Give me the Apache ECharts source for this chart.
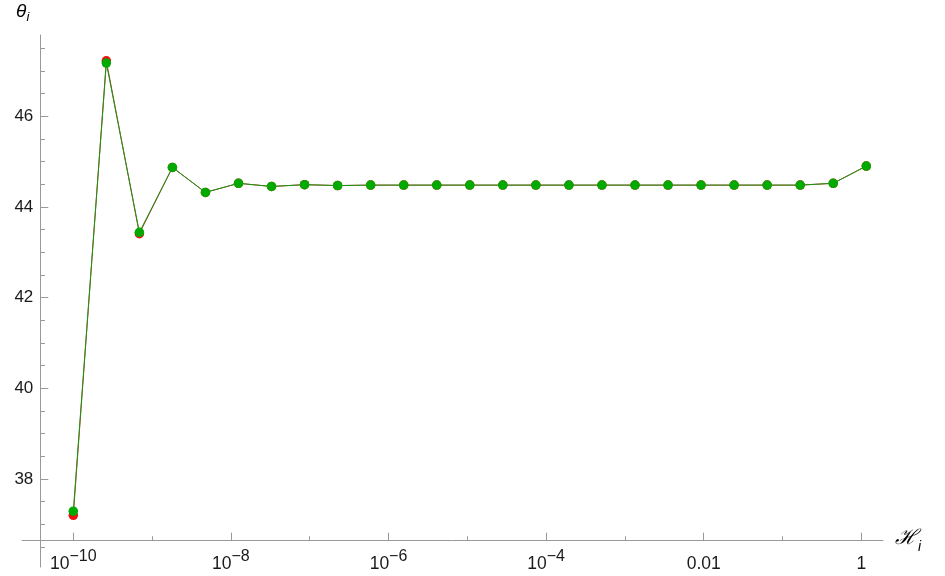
<!DOCTYPE html>
<html>
<head>
<meta charset="utf-8">
<script src="https://cdn.jsdelivr.net/npm/echarts@6/dist/echarts.min.js"></script>
<style>
html,body{margin:0;padding:0;background:#fff;}
#chart{width:945px;height:576px;}
</style>
</head>
<body>
<div id="chart"></div>
<script>
// H_i values (x, log scale)
const hValues = [1e-10, 2.626e-10, 6.896e-10, 1.811e-9, 4.755e-9, 1.249e-8, 3.279e-8, 8.61e-8,
  2.261e-7, 5.937e-7, 1.560e-6, 4.096e-6, 1.075e-5, 2.824e-5, 7.416e-5, 1.948e-4, 5.114e-4,
  1.343e-3, 3.527e-3, 9.26e-3, 2.432e-2, 6.387e-2, 0.1677, 0.4405, 1.157];
// theta_i, red series (drawn underneath)
const thetaRed = [37.20, 47.22, 43.41, 44.87, 44.32, 44.52, 44.45, 44.49, 44.47, 44.48, 44.48, 44.48,
  44.48, 44.48, 44.48, 44.48, 44.48, 44.48, 44.48, 44.48, 44.48, 44.48, 44.48, 44.52, 44.90];
// theta_i, green series (drawn on top)
const thetaGreen = [37.29, 47.17, 43.44, 44.87, 44.32, 44.52, 44.45, 44.49, 44.47, 44.48, 44.48, 44.48,
  44.48, 44.48, 44.48, 44.48, 44.48, 44.48, 44.48, 44.48, 44.48, 44.48, 44.48, 44.52, 44.90];
// ticks
const xMajorTicks = [1e-10, 1e-8, 1e-6, 1e-4, 1e-2, 1];
const xMinorTicks = [1e-9, 1e-7, 1e-5, 1e-3, 1e-1];
const yMajorTicks = [38, 40, 42, 44, 46];
const yMinorTicks = [36.5, 37, 37.5, 38.5, 39, 39.5, 40.5, 41, 41.5, 42.5, 43, 43.5, 44.5, 45, 45.5, 46.5, 47, 47.5];

const FONT = 'Liberation Sans, Arial, sans-serif';
const AXIS_COLOR = '#999999';
const TXT = '#1a1a1a';
const xMin = Math.pow(10, -10.651), xMax = Math.pow(10, 0.2754);
const yMin = 36.06, yMax = 47.79;

function xLabel(v) {
  const e = Math.round(Math.log10(v));
  if (e >= -2) return '{b|' + (e === 0 ? '1' : '0.01') + '}';
  return '{b|10}{s|\u2212' + (-e) + '}';
}

const chart = echarts.init(document.getElementById('chart'), null, {renderer: 'canvas'});
const common = {
  type: 'log', logBase: 10, min: xMin, max: xMax, gridIndex: 0, position: 'bottom', offset: -26.3,
  splitLine: {show: false}
};
chart.setOption({
  animation: false,
  backgroundColor: '#ffffff',
  grid: {left: 22, right: 62, top: 35, bottom: 9, containLabel: false},
  xAxis: [
    Object.assign({}, common, {
      name: '{h|\u210B}{s|i}',
      nameLocation: 'end',
      nameGap: 12,
      nameTextStyle: {
        rich: {
          h: {fontFamily: 'DejaVu Serif, serif', fontStyle: 'italic', fontSize: 21, color: '#000', lineHeight: 26, verticalAlign: 'top'},
          s: {fontFamily: FONT, fontStyle: 'italic', fontSize: 14, color: '#000', lineHeight: 24, verticalAlign: 'bottom', padding: [0,0,0,1]}
        }
      },
      axisLine: {show: true, lineStyle: {color: AXIS_COLOR, width: 1}},
      axisTick: {show: true, inside: true, length: 8, customValues: xMajorTicks, lineStyle: {color: AXIS_COLOR}},
      axisLabel: {
        show: true, margin: 8, customValues: xMajorTicks, formatter: xLabel,
        fontFamily: FONT, fontSize: 17, color: TXT,
        rich: {
          b: {fontFamily: FONT, fontSize: 17.5, color: TXT, lineHeight: 24, verticalAlign: 'bottom'},
          s: {fontFamily: FONT, fontSize: 16, color: TXT, lineHeight: 16, verticalAlign: 'bottom', padding: [0, 0, 8, 0]}
        }
      }
    }),
    Object.assign({}, common, {
      axisLine: {show: false},
      axisTick: {show: true, inside: true, length: 4.5, customValues: xMinorTicks, lineStyle: {color: AXIS_COLOR}},
      axisLabel: {show: false}
    })
  ],
  yAxis: [
    {
      type: 'value', min: yMin, max: yMax, gridIndex: 0, position: 'left', offset: -18.3,
      splitLine: {show: false},
      name: '{t|\u03B8}{s|i}',
      nameLocation: 'end',
      nameGap: 11,
      nameTextStyle: {
        align: 'right',
        padding: [0, 11, 0, 0],
        rich: {
          t: {fontFamily: FONT, fontStyle: 'italic', fontSize: 19, color: '#000', lineHeight: 22, verticalAlign: 'top'},
          s: {fontFamily: FONT, fontStyle: 'italic', fontSize: 13, color: '#000', lineHeight: 22, verticalAlign: 'bottom'}
        }
      },
      axisLine: {show: true, lineStyle: {color: AXIS_COLOR, width: 1}},
      axisTick: {show: true, inside: true, length: 8, customValues: yMajorTicks, lineStyle: {color: AXIS_COLOR}},
      axisLabel: {show: true, margin: 7, customValues: yMajorTicks, fontFamily: FONT, fontSize: 17, color: TXT}
    },
    {
      type: 'value', min: yMin, max: yMax, gridIndex: 0, position: 'left', offset: -18.3,
      splitLine: {show: false},
      axisLine: {show: false},
      axisTick: {show: true, inside: true, length: 4.7, customValues: yMinorTicks, lineStyle: {color: AXIS_COLOR}},
      axisLabel: {show: false}
    }
  ],
  series: [
    {
      type: 'line', xAxisIndex: 0, yAxisIndex: 0,
      data: hValues.map((h, i) => [h, thetaRed[i]]),
      symbol: 'circle', symbolSize: 9.5, showAllSymbol: true,
      itemStyle: {color: '#ee1111'},
      lineStyle: {color: '#cc3322', width: 1},
      z: 2
    },
    {
      type: 'line', xAxisIndex: 0, yAxisIndex: 0,
      data: hValues.map((h, i) => [h, thetaGreen[i]]),
      symbol: 'circle', symbolSize: 9.5, showAllSymbol: true,
      itemStyle: {color: '#00aa00'},
      lineStyle: {color: '#139913', width: 1},
      z: 3
    }
  ]
});
</script>
</body>
</html>
